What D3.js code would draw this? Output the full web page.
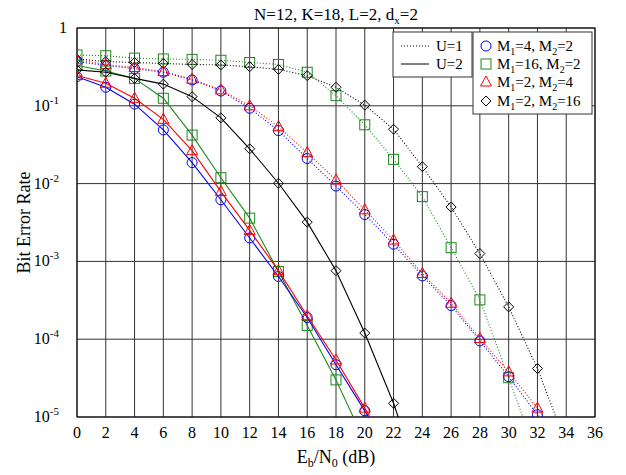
<!DOCTYPE html>
<html>
  <style>
    body { margin: 0; background: #fff; }
  </style>
  <body>
    <div id="chart"></div>
  </body>
  <script src="https://d3js.org/d3.v7.min.js"></script>
  <script>
    // Eb/N0 points (dB)
    const snr = [0, 2, 4, 6, 8, 10, 12, 14, 16, 18, 20, 22, 24, 26, 28, 30, 32, 34];
    const xTicks = [0, 2, 4, 6, 8, 10, 12, 14, 16, 18, 20, 22, 24, 26, 28, 30, 32, 34, 36];
    const yExps = [0, -1, -2, -3, -4, -5];

    // U=2 (solid)
    const berU2_m42 = [0.237, 0.173, 0.105, 0.049, 0.0186, 0.0062, 0.0020, 6.4e-4, 1.9e-4, 4.7e-5, 1.2e-5, 2.8e-6];
    const berU2_m162 = [0.33, 0.28, 0.225, 0.125, 0.042, 0.0119, 0.0036, 7.4e-4, 1.5e-4, 3.0e-5, 4.8e-6];
    const berU2_m24 = [0.245, 0.195, 0.125, 0.067, 0.0265, 0.0079, 0.0025, 7.6e-4, 2.0e-4, 5.4e-5, 1.3e-5, 3.0e-6];
    const berU2_m216 = [0.29, 0.27, 0.225, 0.19, 0.131, 0.070, 0.028, 0.0101, 0.0032, 7.6e-4, 1.2e-4, 1.5e-5, 1.2e-6];

    // U=1 (dotted)
    const berU1_m42 = [0.37, 0.33, 0.30, 0.27, 0.215, 0.155, 0.093, 0.048, 0.021, 0.0093, 0.0040, 0.00166, 6.5e-4, 2.7e-4, 9.5e-5, 3.3e-5, 1.07e-5, 3e-6];
    const berU1_m162 = [0.45, 0.44, 0.41, 0.40, 0.395, 0.385, 0.36, 0.34, 0.27, 0.135, 0.057, 0.0205, 0.0068, 0.0015, 3.2e-4, 3.2e-5, 3e-6];
    const berU1_m24 = [0.39, 0.34, 0.31, 0.275, 0.22, 0.16, 0.10, 0.054, 0.025, 0.0111, 0.0046, 0.00188, 7.0e-4, 2.9e-4, 1.02e-4, 3.8e-5, 1.3e-5, 4e-6];
    const berU1_m216 = [0.40, 0.37, 0.36, 0.35, 0.34, 0.335, 0.318, 0.294, 0.244, 0.173, 0.102, 0.050, 0.0165, 0.0050, 0.00126, 2.6e-4, 4.2e-5, 4.5e-6];

    const series = [
      { vals: berU1_m162, color: '#1a8a1a', marker: 'square', dotted: true },
      { vals: berU1_m216, color: '#000000', marker: 'diamond', dotted: true },
      { vals: berU1_m42, color: '#0000ff', marker: 'circle', dotted: true },
      { vals: berU1_m24, color: '#ff0000', marker: 'triangle', dotted: true },
      { vals: berU2_m162, color: '#1a8a1a', marker: 'square', dotted: false },
      { vals: berU2_m216, color: '#000000', marker: 'diamond', dotted: false },
      { vals: berU2_m42, color: '#0000ff', marker: 'circle', dotted: false },
      { vals: berU2_m24, color: '#ff0000', marker: 'triangle', dotted: false }
    ];

    const W = 626, H = 475;
    const pLeft = 77, pRight = 595, pTop = 28, pBottom = 417;
    const FONT = "'Liberation Serif', 'DejaVu Serif', 'Times New Roman', serif";

    const x = d3.scaleLinear().domain([0, 36]).range([pLeft, pRight]);
    const y = d3.scaleLog().domain([1e-5, 1]).range([pBottom, pTop]);

    const svg = d3.select('#chart').append('svg')
      .attr('width', W).attr('height', H)
      .attr('font-family', FONT)
      .style('font-family', FONT);

    svg.append('rect').attr('width', W).attr('height', H).attr('fill', '#fff');

    svg.append('clipPath').attr('id', 'clip')
      .append('rect').attr('x', pLeft).attr('y', pTop)
      .attr('width', pRight - pLeft).attr('height', pBottom - pTop);

    // grid
    const grid = svg.append('g').attr('stroke', '#333').attr('stroke-width', 1);
    grid.selectAll('line.v').data(xTicks).enter().append('line')
      .attr('x1', d => x(d)).attr('x2', d => x(d))
      .attr('y1', pTop).attr('y2', pBottom);
    grid.selectAll('line.h').data(yExps).enter().append('line')
      .attr('x1', pLeft).attr('x2', pRight)
      .attr('y1', d => y(Math.pow(10, d))).attr('y2', d => y(Math.pow(10, d)));

    svg.append('rect').attr('x', pLeft).attr('y', pTop)
      .attr('width', pRight - pLeft).attr('height', pBottom - pTop)
      .attr('fill', 'none').attr('stroke', '#000');

    // x tick labels
    svg.append('g').selectAll('text').data(xTicks).enter().append('text')
      .attr('x', d => x(d)).attr('y', pBottom + 21)
      .attr('text-anchor', 'middle').attr('font-size', 16)
      .text(d => d);

    // y tick labels
    const yl = svg.append('g').selectAll('text').data(yExps).enter().append('text')
      .attr('x', d => d === 0 ? 67 : 59).attr('y', d => y(Math.pow(10, d)) + 5)
      .attr('text-anchor', 'end').attr('font-size', 16);
    yl.each(function (d) {
      const t = d3.select(this);
      if (d === 0) { t.text('1'); return; }
      t.append('tspan').text('10');
      t.append('tspan').attr('dy', -7).attr('font-size', 11).text(d);
    });

    // title
    const title = svg.append('text').attr('x', 336).attr('y', 20)
      .attr('text-anchor', 'middle').attr('font-size', 17);
    title.append('tspan').text('N=12, K=18, L=2, d');
    title.append('tspan').attr('dy', 4).attr('font-size', 11).text('x');
    title.append('tspan').attr('dy', -4).text('=2');

    // axis labels
    const xl = svg.append('text').attr('x', (pLeft + pRight) / 2).attr('y', pBottom + 46)
      .attr('text-anchor', 'middle').attr('font-size', 18);
    xl.append('tspan').text('E');
    xl.append('tspan').attr('dy', 4).attr('font-size', 12).text('b');
    xl.append('tspan').attr('dy', -4).text('/N');
    xl.append('tspan').attr('dy', 4).attr('font-size', 12).text('0');
    xl.append('tspan').attr('dy', -4).text(' (dB)');

    svg.append('text')
      .attr('transform', 'translate(30,' + ((pTop + pBottom) / 2) + ') rotate(-90)')
      .attr('text-anchor', 'middle').attr('font-size', 18)
      .text('Bit Error Rate');

    // marker drawing
    function drawMarker(g, type, cx, cy, color) {
      if (type === 'circle') {
        g.append('circle').attr('cx', cx).attr('cy', cy).attr('r', 5)
          .attr('fill', 'none').attr('stroke', color);
      } else if (type === 'square') {
        g.append('rect').attr('x', cx - 5).attr('y', cy - 5).attr('width', 10).attr('height', 10)
          .attr('fill', 'none').attr('stroke', color);
      } else if (type === 'triangle') {
        g.append('path').attr('d', 'M' + cx + ',' + (cy - 6) + 'L' + (cx + 5.5) + ',' + (cy + 4) + 'L' + (cx - 5.5) + ',' + (cy + 4) + 'Z')
          .attr('fill', 'none').attr('stroke', color);
      } else {
        g.append('path').attr('d', 'M' + cx + ',' + (cy - 5) + 'L' + (cx + 5) + ',' + cy + 'L' + cx + ',' + (cy + 5) + 'L' + (cx - 5) + ',' + cy + 'Z')
          .attr('fill', 'none').attr('stroke', color);
      }
    }

    const plot = svg.append('g').attr('clip-path', 'url(#clip)');
    const line = d3.line().x((d, i) => x(snr[i])).y(d => y(d));

    series.forEach(function (s) {
      plot.append('path').datum(s.vals)
        .attr('d', line)
        .attr('fill', 'none').attr('stroke', s.color).attr('stroke-width', 1.1)
        .attr('stroke-dasharray', s.dotted ? '1,2' : null);
      const mg = plot.append('g');
      s.vals.forEach(function (v, i) {
        if (v >= 1e-5) drawMarker(mg, s.marker, x(snr[i]), y(v), s.color);
      });
    });

    // legend: line style
    const lg1 = svg.append('g');
    lg1.append('rect').attr('x', 393).attr('y', 32).attr('width', 79).attr('height', 45)
      .attr('fill', '#fff').attr('stroke', '#333');
    [{ label: 'U=1', dotted: true, yy: 46 }, { label: 'U=2', dotted: false, yy: 64 }].forEach(function (e) {
      lg1.append('line').attr('x1', 401).attr('x2', 429).attr('y1', e.yy).attr('y2', e.yy)
        .attr('stroke', '#000').attr('stroke-dasharray', e.dotted ? '1,2' : null);
      lg1.append('text').attr('x', 436).attr('y', e.yy + 5).attr('font-size', 15).text(e.label);
    });

    // legend: modulation
    const lg2 = svg.append('g');
    lg2.append('rect').attr('x', 473).attr('y', 32).attr('width', 119).attr('height', 82)
      .attr('fill', '#fff').attr('stroke', '#333');
    const entries = [
      { m1: '4', m2: '2', color: '#0000ff', marker: 'circle', yy: 46 },
      { m1: '16', m2: '2', color: '#1a8a1a', marker: 'square', yy: 64 },
      { m1: '2', m2: '4', color: '#ff0000', marker: 'triangle', yy: 82 },
      { m1: '2', m2: '16', color: '#000000', marker: 'diamond', yy: 101 }
    ];
    entries.forEach(function (e) {
      drawMarker(lg2, e.marker, 486, e.yy, e.color);
      const t = lg2.append('text').attr('x', 497).attr('y', e.yy + 5).attr('font-size', 15);
      t.append('tspan').text('M');
      t.append('tspan').attr('dy', 4).attr('font-size', 10).text('1');
      t.append('tspan').attr('dy', -4).text('=' + e.m1 + ', M');
      t.append('tspan').attr('dy', 4).attr('font-size', 10).text('2');
      t.append('tspan').attr('dy', -4).text('=' + e.m2);
    });
  </script>
</html>
